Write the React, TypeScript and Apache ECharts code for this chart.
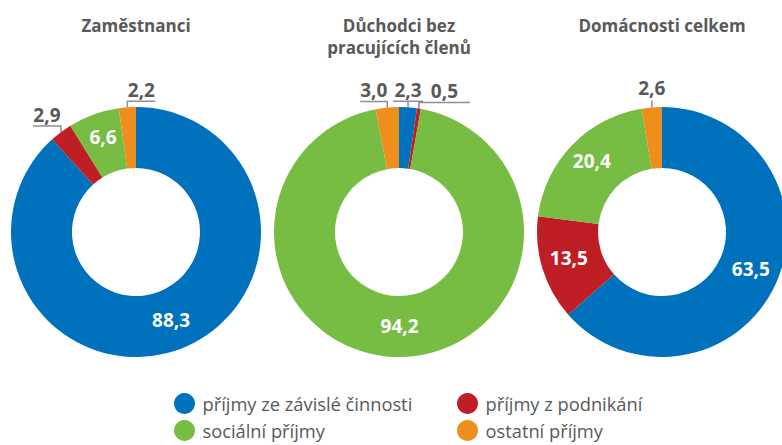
import React, { useEffect, useRef } from 'react';
import * as echarts from 'echarts';

const categories = [
  'příjmy ze závislé činnosti',
  'příjmy z podnikání',
  'sociální příjmy',
  'ostatní příjmy',
];
const zamestnanci = [88.3, 2.9, 6.6, 2.2];
const duchodci = [2.3, 0.5, 94.2, 3.0];
const domacnosti = [63.5, 13.5, 20.4, 2.6];
const chartTitles = ['Zaměstnanci', 'Důchodci bez\npracujících členů', 'Domácnosti celkem'];

const COLORS = ['#0071BC', '#BE1E24', '#77BC43', '#EE8E1D'];
const TEXT_GRAY = '#595959';
const LINE_GRAY = '#8f8f8f';
const CENTERS_X = [136, 399, 662];
const CENTER_Y = 232;
// label placement per slice: in = inside, L/R = underline to left/right (len px), C = centered underline, T = tick only
const placements: { side: string; len?: number }[][] = [
  [{ side: 'in' }, { side: 'L', len: 28 }, { side: 'in' }, { side: 'R', len: 28 }],
  [{ side: 'C', len: 30 }, { side: 'R', len: 51 }, { side: 'in' }, { side: 'L', len: 27 }],
  [{ side: 'in' }, { side: 'in' }, { side: 'in' }, { side: 'T' }],
];

const fmt = (v: number) => v.toFixed(1).replace('.', ',');

const LABEL_FONT = { fontFamily: 'Open Sans', fontWeight: 'bold', fontSize: 19 };

function makeSeries(values: number[], idx: number) {
  const place = placements[idx];
  return {
    type: 'pie',
    center: [CENTERS_X[idx], CENTER_Y],
    radius: [64, 125],
    startAngle: 90,
    clockwise: true,
    avoidLabelOverlap: false,
    silent: true,
    label: {
      formatter: (p: any) => fmt(p.value),
      ...LABEL_FONT,
    },
    data: values.map((v, i) => ({
      value: v,
      name: categories[i],
      itemStyle: { color: COLORS[i] },
      label:
        place[i].side === 'in'
          ? { position: 'inside', color: '#ffffff', ...LABEL_FONT }
          : { position: 'outside', color: TEXT_GRAY, ...LABEL_FONT },
      labelLine: {
        show: place[i].side !== 'in',
        length: 6,
        length2: 0,
        lineStyle: { color: LINE_GRAY, width: 1.5 },
      },
    })),
    labelLayout: (params: any) => {
      const cfg = place[params.dataIndex];
      const p = cfg.side;
      if (p === 'in') return { dy: -3 };
      const pts = params.labelLinePoints;
      if (!pts || !pts.length) return {};
      const p0 = pts[0];
      const w = cfg.len || params.labelRect.width + 4;
      if (p === 'T') {
        const p1 = [p0[0], p0[1] - 7];
        return {
          x: p1[0],
          y: p1[1] - 3,
          align: 'center',
          verticalAlign: 'bottom',
          fontSize: 19,
          labelLinePoints: [p0, p1],
        };
      }
      const p1 = [p0[0], p0[1] - 6];
      let cx = p1[0];
      let line: number[][];
      if (p === 'L') {
        cx = p1[0] - w / 2;
        line = [p0, p1, [p1[0] - w, p1[1]]];
      } else if (p === 'R') {
        cx = p1[0] + w / 2;
        line = [p0, p1, [p1[0] + w, p1[1]]];
      } else {
        line = [p0, p1, [p1[0] - w / 2, p1[1]], [p1[0] + w / 2, p1[1]]];
      }
      return {
        x: cx,
        y: p1[1] - 2,
        align: 'center',
        verticalAlign: 'bottom',
        fontSize: 19,
        labelLinePoints: line,
      };
    },
  };
}

const legendBase = {
  orient: 'vertical',
  top: 393,
  itemWidth: 26,
  itemHeight: 21,
  itemGap: 6,
  icon: 'circle',
  selectedMode: false,
  padding: 0,
  textStyle: { fontFamily: 'Open Sans', fontSize: 18.3, color: TEXT_GRAY },
};

export default function App() {
  const ref = useRef<HTMLDivElement>(null);
  useEffect(() => {
    if (!ref.current) return;
    const chart = echarts.init(ref.current, undefined, { renderer: 'svg' });
    chart.setOption({
      animation: false,
      backgroundColor: '#ffffff',
      legend: [
        { ...legendBase, left: 174, data: [categories[0], categories[2]] },
        { ...legendBase, left: 457, data: [categories[1], categories[3]] },
      ],
      graphic: chartTitles.map((t, i) => ({
        type: 'text',
        x: CENTERS_X[i],
        y: 14,
        style: {
          text: t,
          align: 'center',
          verticalAlign: 'top',
          fill: TEXT_GRAY,
          fontFamily: 'Open Sans',
          fontWeight: 'bold',
          fontSize: 17,
          lineHeight: 22,
        },
      })),
      series: [makeSeries(zamestnanci, 0), makeSeries(duchodci, 1), makeSeries(domacnosti, 2)],
    });
    return () => chart.dispose();
  }, []);
  return (
    <div
      ref={ref}
      style={{ position: 'absolute', left: 0, top: 0, width: 782, height: 445, background: '#fff' }}
    />
  );
}
